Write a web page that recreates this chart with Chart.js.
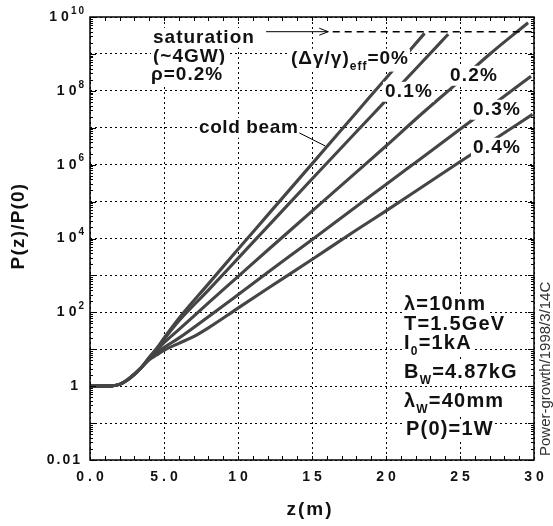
<!DOCTYPE html>
<html>
<head>
<meta charset="utf-8">
<script src="https://cdn.jsdelivr.net/npm/chart.js@4.4.0/dist/chart.umd.min.js"></script>
<style>
  html, body { margin: 0; padding: 0; background: #fff; }
  canvas { display: block; }
</style>
</head>
<body>
<canvas id="growthChart" width="553" height="526"></canvas>
<script>
// z (m) and P(z)/P(0), one pair of arrays per energy spread
const Z_0 = [0, 1, 1.5, 2, 2.5, 3, 3.5, 4, 4.5, 5, 6, 8, 10, 12, 15, 18, 20, 22.6];
const P_0 = [1, 1, 1.02, 1.12, 1.45, 2.1, 3.3, 6.0, 10.5, 20, 68, 590, 5100, 4.3e4, 1.05e6, 2.6e7, 2.2e8, 3.6e9];

const Z_01 = [0, 1, 1.5, 2, 2.5, 3, 3.5, 4, 4.5, 5, 6, 8, 10, 12, 15, 18, 20, 22, 24.2];
const P_01 = [1, 1, 1.02, 1.12, 1.45, 2.1, 3.3, 6.0, 10, 18.5, 58, 400, 2900, 2.1e4, 4.1e5, 7.8e6, 5.5e7, 3.9e8, 3.4e9];

const Z_02 = [0, 1, 1.5, 2, 2.5, 3, 3.5, 4, 4.5, 5, 6, 8, 10, 12, 15, 18, 20, 22, 25, 27, 29.6];
const P_02 = [1, 1, 1.02, 1.12, 1.45, 2.1, 3.3, 5.8, 9.3, 15, 34, 180, 930, 4800, 5.5e4, 6.3e5, 3.2e6, 1.7e7, 1.9e8, 9.8e8, 7e9];

const Z_03 = [0, 1, 1.5, 2, 2.5, 3, 3.5, 4, 4.5, 5, 6, 8, 10, 12, 15, 18, 20, 22, 25, 27, 29.8];
const P_03 = [1, 1, 1.02, 1.12, 1.45, 2.1, 3.3, 5.4, 8.0, 11.2, 20, 76, 300, 1200, 9300, 7.4e4, 2.9e5, 1.15e6, 9.1e6, 3.6e7, 2.5e8];

const Z_04 = [0, 1, 1.5, 2, 2.5, 3, 3.5, 4, 4.5, 5, 6, 7, 8, 10, 12, 15, 18, 20, 22, 25, 27, 29.9];
const P_04 = [1, 1, 1.02, 1.12, 1.45, 2.1, 3.3, 5.2, 7.0, 9.3, 14.5, 22, 38, 130, 440, 2700, 1.7e4, 5.6e4, 1.9e5, 1.2e6, 4e6, 2.3e7];

// saturation marker (~4GW / 1W) and the arrow / pointer ends
const SAT_LEVEL = 4e9;
const SAT_ARROW_Z = [11.9, 16.1];
const SAT_DASH_Z = [16.4, 30];
const POINTER_Z = [14.1, 15.9];
const POINTER_P = [7.4e6, 3.2e6];

// axes
const X_TICKS = [0, 5, 10, 15, 20, 25, 30];
const X_TICK_LABELS = ['0.0', '5.0', '10', '15', '20', '25', '30'];
const Y_TICKS = [1e10, 1e8, 1e6, 1e4, 1e2, 1, 0.01];
const Y_TICK_BASE = ['10', '10', '10', '10', '10', '1', '0.01'];
const Y_TICK_EXP = ['10', '8', '6', '4', '2', '', ''];
const Y_DECADES = [0.01, 0.1, 1, 10, 100, 1e3, 1e4, 1e5, 1e6, 1e7, 1e8, 1e9, 1e10];

const FONT = '"Liberation Sans", Arial, Helvetica, sans-serif';

function curve(zs, ps) {
    return zs.map((z, i) => ({ x: z, y: ps[i] }));
}

const CURVES = [
    curve(Z_0, P_0),
    curve(Z_01, P_01),
    curve(Z_02, P_02),
    curve(Z_03, P_03),
    curve(Z_04, P_04)
];

// each curve: dark outer stroke + lighter core, like the scanned plot
const datasets = [];
CURVES.forEach(pts => {
    datasets.push({ data: pts, borderColor: '#454545', borderWidth: 3.1 });
    datasets.push({ data: pts, borderColor: '#8c8c8c', borderWidth: 1 });
});

// text with sub/superscript parts: [text, '' | 'sub' | 'sup']
function drawRich(ctx, parts, x, baseline, size, ls, box) {
    const runs = [];
    let cx = x;
    parts.forEach(([t, kind]) => {
        const fs = kind ? Math.round(size * 0.62) : size;
        ctx.font = 'bold ' + fs + 'px ' + FONT;
        ctx.letterSpacing = ls + 'px';
        const w = ctx.measureText(t).width;
        runs.push({ t, kind, fs, x: cx });
        cx += w;
    });
    if (box) {
        const hasSub = parts.some(p => p[1] === 'sub');
        ctx.fillStyle = '#fff';
        ctx.fillRect(x - 2, baseline - size * 0.8, cx - x + 3, size * (hasSub ? 1.2 : 1.05));
    }
    ctx.fillStyle = '#111';
    ctx.textBaseline = 'alphabetic';
    ctx.textAlign = 'left';
    runs.forEach(r => {
        ctx.font = 'bold ' + r.fs + 'px ' + FONT;
        ctx.letterSpacing = ls + 'px';
        let by = baseline;
        if (r.kind === 'sub') by += size * 0.3;
        if (r.kind === 'sup') by -= size * 0.45;
        ctx.fillText(r.t, r.x, by);
    });
    ctx.letterSpacing = '0px';
}

const overlayPlugin = {
    id: 'overlay',
    afterDatasetsDraw(chart) {
        const { ctx, chartArea: a, scales: { x, y } } = chart;
        ctx.save();

        // inward tick marks
        ctx.strokeStyle = '#000';
        ctx.lineWidth = 1;
        ctx.beginPath();
        for (let z = 1; z < 30; z++) {
            const px = Math.round(x.getPixelForValue(z)) + 0.5;
            ctx.moveTo(px, a.bottom); ctx.lineTo(px, a.bottom - 4);
            ctx.moveTo(px, a.top); ctx.lineTo(px, a.top + 4);
        }
        Y_DECADES.forEach(d => {
            for (let m = 1; m < 10; m++) {
                const v = d * m;
                if (v > 1e10) break;
                const py = Math.round(y.getPixelForValue(v)) + 0.5;
                const len = m === 1 ? 6 : 3;
                ctx.moveTo(a.left, py); ctx.lineTo(a.left + len, py);
                ctx.moveTo(a.right, py); ctx.lineTo(a.right - len, py);
            }
        });
        ctx.stroke();

        // frame
        ctx.lineWidth = 1.5;
        ctx.strokeRect(a.left, a.top, a.right - a.left, a.bottom - a.top);

        // saturation arrow and dashed level
        const sy = y.getPixelForValue(SAT_LEVEL);
        const ax0 = x.getPixelForValue(SAT_ARROW_Z[0]);
        const ax1 = x.getPixelForValue(SAT_ARROW_Z[1]);
        ctx.lineWidth = 1;
        ctx.beginPath();
        ctx.moveTo(ax0, sy); ctx.lineTo(ax1, sy);
        ctx.moveTo(ax1 - 9, sy - 3.5); ctx.lineTo(ax1, sy); ctx.lineTo(ax1 - 9, sy + 3.5);
        ctx.stroke();
        ctx.setLineDash([7, 5]);
        ctx.lineWidth = 1.5;
        ctx.beginPath();
        ctx.moveTo(x.getPixelForValue(SAT_DASH_Z[0]), sy);
        ctx.lineTo(x.getPixelForValue(SAT_DASH_Z[1]), sy);
        ctx.stroke();
        ctx.setLineDash([]);

        // cold beam pointer
        ctx.lineWidth = 1;
        ctx.beginPath();
        ctx.moveTo(x.getPixelForValue(POINTER_Z[0]), y.getPixelForValue(POINTER_P[0]));
        ctx.lineTo(x.getPixelForValue(POINTER_Z[1]), y.getPixelForValue(POINTER_P[1]));
        ctx.stroke();

        // annotations
        drawRich(ctx, [['saturation', '']], 153, 43, 19, 1, true);
        drawRich(ctx, [['(~4GW)', '']], 153, 62, 19, 1, true);
        drawRich(ctx, [['ρ=0.2%', '']], 151, 80, 19, 1, true);
        drawRich(ctx, [['cold beam', '']], 199, 133, 19, 0.6, true);
        drawRich(ctx, [['(Δγ/γ)', ''], ['eff', 'sub'], ['=0%', '']], 291, 64, 19, 1, true);
        drawRich(ctx, [['0.1%', '']], 385, 97, 19, 1.2, true);
        drawRich(ctx, [['0.2%', '']], 450, 81, 19, 1.2, true);
        drawRich(ctx, [['0.3%', '']], 473, 115, 19, 1.2, true);
        drawRich(ctx, [['0.4%', '']], 473, 153, 19, 1.2, true);

        // parameter block
        drawRich(ctx, [['λ=10nm', '']], 404, 310, 20, 1.2, true);
        drawRich(ctx, [['T=1.5GeV', '']], 404, 330, 20, 1.2, true);
        drawRich(ctx, [['I', ''], ['0', 'sub'], ['=1kA', '']], 404, 349, 20, 1.2, true);
        drawRich(ctx, [['B', ''], ['W', 'sub'], ['=4.87kG', '']], 404, 378, 20, 1.2, true);
        drawRich(ctx, [['λ', ''], ['W', 'sub'], ['=40mm', '']], 404, 407, 20, 1.2, true);
        drawRich(ctx, [['P(0)=1W', '']], 406, 435, 20, 1.2, true);

        ctx.restore();
    },
    afterDraw(chart) {
        const { ctx, chartArea: a, scales: { x, y } } = chart;
        ctx.save();
        ctx.fillStyle = '#111';

        // x tick labels
        ctx.font = 'bold 14px ' + FONT;
        ctx.letterSpacing = '4px';
        ctx.textAlign = 'center';
        ctx.textBaseline = 'middle';
        X_TICKS.forEach((v, i) => {
            ctx.fillText(X_TICK_LABELS[i], x.getPixelForValue(v) + 2, a.bottom + 17);
        });

        // y tick labels with exponents
        ctx.textAlign = 'left';
        Y_TICKS.forEach((v, i) => {
            const py = y.getPixelForValue(v);
            const ls = Y_TICK_BASE[i].length > 2 ? '2px' : '4px';
            ctx.font = 'bold 14px ' + FONT;
            ctx.letterSpacing = ls;
            const wb = ctx.measureText(Y_TICK_BASE[i]).width;
            let we = 0;
            if (Y_TICK_EXP[i]) {
                ctx.font = 'bold 10px ' + FONT;
                ctx.letterSpacing = '2px';
                we = ctx.measureText(Y_TICK_EXP[i]).width;
            }
            const x0 = (Y_TICK_EXP[i] ? 88 : 82) - wb - we;
            ctx.font = 'bold 14px ' + FONT;
            ctx.letterSpacing = ls;
            ctx.fillText(Y_TICK_BASE[i], x0, py);
            if (Y_TICK_EXP[i]) {
                ctx.font = 'bold 10px ' + FONT;
                ctx.letterSpacing = '2px';
                ctx.fillText(Y_TICK_EXP[i], x0 + wb - 2, py - 6);
            }
        });

        // axis titles
        ctx.font = 'bold 19px ' + FONT;
        ctx.letterSpacing = '2px';
        ctx.textAlign = 'center';
        ctx.fillText('z(m)', 310, 510);

        ctx.save();
        ctx.translate(19, 226);
        ctx.rotate(-Math.PI / 2);
        ctx.letterSpacing = '1.2px';
        ctx.fillText('P(z)/P(0)', 0, 0);
        ctx.restore();

        // file stamp on the right edge
        ctx.save();
        ctx.translate(546, 456);
        ctx.rotate(-Math.PI / 2);
        ctx.font = '15px ' + FONT;
        ctx.letterSpacing = '0px';
        ctx.textAlign = 'left';
        ctx.fillStyle = '#333';
        ctx.fillText('Power-growth/1998/3/14C', 0, 0);
        ctx.restore();

        ctx.restore();
    }
};

const config = {
    type: 'line',
    data: { datasets: datasets },
    options: {
        responsive: false,
        animation: false,
        events: [],
        layout: { padding: { left: 90, right: 19, top: 17, bottom: 66 } },
        elements: {
            point: { radius: 0 },
            line: { cubicInterpolationMode: 'monotone', borderCapStyle: 'butt' }
        },
        plugins: { legend: { display: false }, tooltip: { enabled: false } },
        scales: {
            x: {
                type: 'linear',
                min: 0,
                max: 30,
                ticks: { display: false, stepSize: 5 },
                grid: { color: '#000', lineWidth: 1, drawTicks: false },
                border: { display: false, dash: [2, 3] }
            },
            y: {
                type: 'logarithmic',
                min: 0.01,
                max: 1e10,
                afterBuildTicks: s => { s.ticks = Y_DECADES.map(v => ({ value: v })); },
                ticks: { display: false },
                grid: { color: '#000', lineWidth: 1, drawTicks: false },
                border: { display: false, dash: [2, 3] }
            }
        }
    },
    plugins: [overlayPlugin]
};

const growthChart = new Chart(document.getElementById('growthChart'), config);
</script>
</body>
</html>
